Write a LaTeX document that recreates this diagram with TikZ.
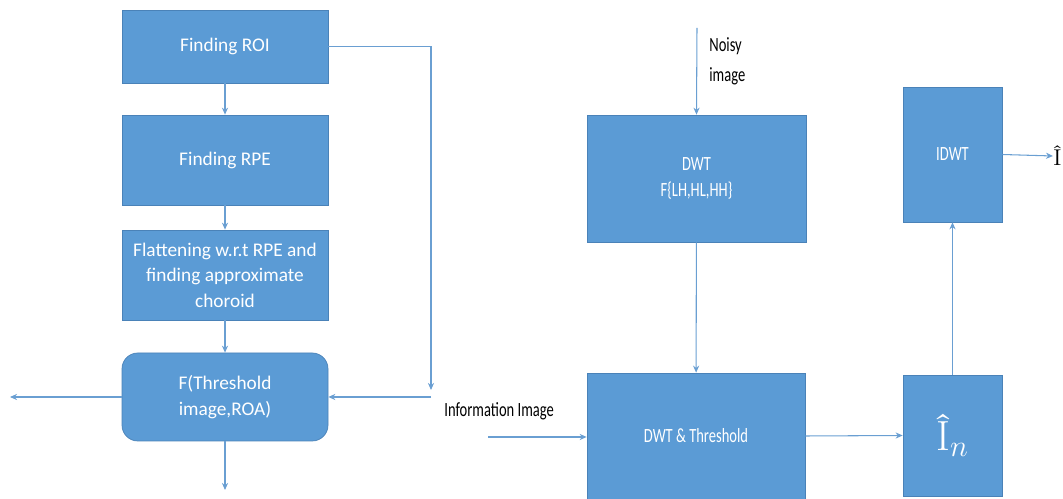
\documentclass[tikz,border=0pt]{standalone}
\usepackage{fontspec}
\setmainfont{Carlito}
\newfontfamily\narrowfont[FakeStretch=0.72]{Carlito}
\newfontfamily\lmfont{Latin Modern Roman}
\usetikzlibrary{arrows.meta}

\definecolor{boxblue}{HTML}{5B9BD5}
\definecolor{boxedge}{HTML}{4A82B8}
\definecolor{lineblue}{HTML}{6A9FD2}

\tikzset{
  blockbox/.style={draw=boxedge, fill=boxblue, text=white, align=center,
    inner sep=0pt, font=\fontsize{11}{14.5}\selectfont},
  narrowbox/.style={blockbox, font=\narrowfont\fontsize{11.5}{15}\selectfont},
  flowarrow/.style={draw=lineblue, line width=0.6pt,
    -{Stealth[length=4pt,width=3.5pt]}}
}

\begin{document}
\begin{tikzpicture}[x=0.02cm, y=-0.02cm]
  \useasboundingbox (0,0) rectangle (1063,499);

  % left column
  \node[blockbox, minimum width=206*0.02cm, minimum height=73*0.02cm] (roi) at (225,46.5) {Finding ROI};
  \node[blockbox, minimum width=206*0.02cm, minimum height=90*0.02cm] (rpe) at (225,160) {Finding RPE};
  \node[blockbox, minimum width=206*0.02cm, minimum height=90*0.02cm] (flat) at (225,275)
    {Flattening w.r.t RPE and\\finding approximate\\choroid};
  \node[blockbox, rounded corners=9pt, minimum width=206*0.02cm, minimum height=88*0.02cm] (fth) at (225,397)
    {F(Threshold\\image,ROA)};

  \coordinate (bend) at (431,390);
  \coordinate (leftout) at (10,397);
  \coordinate (downout) at (225,490);

  \draw[flowarrow] (roi) -- (rpe);
  \draw[flowarrow] (rpe) -- (flat);
  \draw[flowarrow] (flat) -- (fth);
  \draw[flowarrow] (roi.east) -| (bend);
  \draw[flowarrow] (bend |- fth.east) -- (fth.east);
  \draw[flowarrow] (fth.west) -- (leftout);
  \draw[flowarrow] (fth.south) -- (downout);

  % right part
  \node[narrowbox, minimum width=219*0.02cm, minimum height=127*0.02cm] (dwt) at (696.5,178.5)
    {DWT\\F\{LH,HL,HH\}};
  \node[narrowbox, minimum width=218*0.02cm, minimum height=126*0.02cm] (dwtth) at (696,436)
    {DWT \& Threshold};
  \node[blockbox, minimum width=99*0.02cm, minimum height=121*0.02cm, font=\fontsize{24}{24}\selectfont] (ihat) at (952.5,435.5)
    {{\lmfont Î}$_{n}$};
  \node[narrowbox, minimum width=99*0.02cm, minimum height=135*0.02cm] (idwt) at (952.5,154.5) {IDWT};

  \coordinate (noisyin) at (697,28);
  \coordinate (infoin) at (488,437);
  \node[anchor=west, inner sep=0pt, font=\fontsize{13}{13}\selectfont] (hatout) at (1053,156) {\lmfont Î};

  \node[anchor=north west, align=left, inner sep=0pt, font=\narrowfont\fontsize{11.5}{17}\selectfont] (noisylbl) at (709,37) {Noisy\\image};
  \node[anchor=west, inner sep=0pt, font=\narrowfont\fontsize{11.5}{13}\selectfont] (infolbl) at (444,411) {Information Image};

  \draw[flowarrow] (noisyin) -- (dwt.north);
  \draw[flowarrow] (dwt) -- (dwtth);
  \draw[flowarrow] (infoin) -- (infoin -| dwtth.west);
  \draw[flowarrow] (dwtth.east) -- (ihat.west);
  \draw[flowarrow] (ihat) -- (idwt);
  \draw[flowarrow] (idwt.east) -- (hatout.west);
\end{tikzpicture}
\end{document}
